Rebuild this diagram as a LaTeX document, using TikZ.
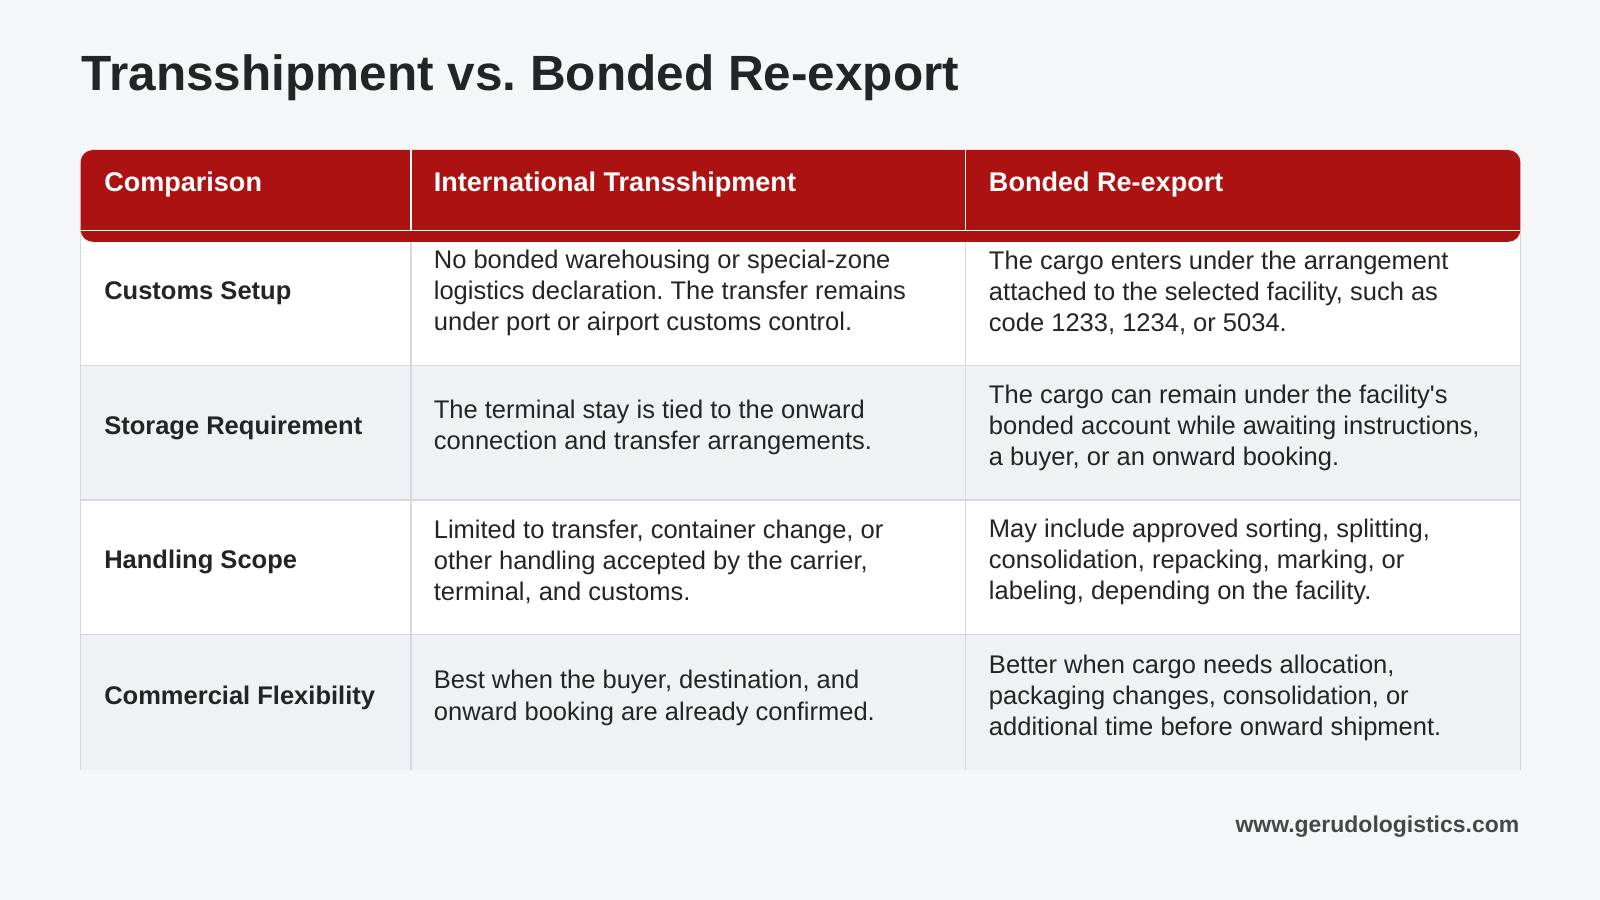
\documentclass[tikz,border=0pt]{standalone}
\usepackage{fontspec}
\setmainfont{Liberation Sans}
\frenchspacing
\definecolor{pagebg}{HTML}{F5F6F8}
\definecolor{hdrred}{HTML}{AD1212}
\definecolor{rowgray}{HTML}{F0F1F4}
\definecolor{gridline}{HTML}{D6D8DD}
\definecolor{inkdark}{HTML}{222428}
\definecolor{inkgray}{HTML}{45474C}
\tikzset{
  hdr/.style={anchor=west,inner sep=0pt,text=white,font=\fontsize{26.5}{30}\selectfont\bfseries},
  lbl/.style={anchor=west,inner sep=0pt,text=inkdark,font=\fontsize{25}{30}\selectfont\bfseries},
  body/.style={anchor=west,inner sep=0pt,align=left,text=inkdark,font=\fontsize{25}{30.5}\selectfont},
}
\begin{document}
\begin{tikzpicture}[x=1pt,y=-1pt]
	\useasboundingbox[fill=pagebg] (0,0) rectangle (1568,882);

	\node[anchor=west,inner sep=0pt,text=inkdark,font=\fontsize{48.5}{58}\selectfont\bfseries] (title) at (80,76) {Transshipment vs. Bonded Re-export};

	% rows
	\fill[white] (79,226) rectangle (1490,358);
	\fill[rowgray] (79,358) rectangle (1490,490);
	\fill[white] (79,490) rectangle (1490,622);
	\fill[rowgray] (79,622) rectangle (1490,755);
	\draw[gridline,line width=1.5pt] (79,226) -- (79,755) (403,226) -- (403,755) (946,226) -- (946,755) (1490,226) -- (1490,755)
	(79,358) -- (1490,358) (79,490) -- (1490,490) (79,622) -- (1490,622);

	% header
	\fill[hdrred,rounded corners=12pt] (79,147) rectangle (1490,237);
	\draw[white,line width=1.5pt] (403,147) -- (403,226) (946,147) -- (946,226) (79,226) -- (1490,226);

	\node[hdr] (h1) at (102,181) {Comparison};
	\node[hdr] (h2) at (425,181) {International Transshipment};
	\node[hdr] (h3) at (969,181) {Bonded Re-export};

	\node[lbl] (l1) at (102,287) {Customs Setup};
	\node[body] (a1) at (425,287) {No bonded warehousing or special-zone\\logistics declaration. The transfer remains\\under port or airport customs control.};
	\node[body] (b1) at (969,287) {The cargo enters under the arrangement\\attached to the selected facility, such as\\code 1233, 1234, or 5034.};

	\node[lbl] (l2) at (102,419) {Storage Requirement};
	\node[body] (a2) at (425,419) {The terminal stay is tied to the onward\\connection and transfer arrangements.};
	\node[body] (b2) at (969,419) {The cargo can remain under the facility\textquotesingle s\\bonded account while awaiting instructions,\\a buyer, or an onward booking.};

	\node[lbl] (l3) at (102,551) {Handling Scope};
	\node[body] (a3) at (425,551) {Limited to transfer, container change, or\\other handling accepted by the carrier,\\terminal, and customs.};
	\node[body] (b3) at (969,551) {May include approved sorting, splitting,\\consolidation, repacking, marking, or\\labeling, depending on the facility.};

	\node[lbl] (l4) at (102,684) {Commercial Flexibility};
	\node[body] (a4) at (425,684) {Best when the buyer, destination, and\\onward booking are already confirmed.};
	\node[body] (b4) at (969,684) {Better when cargo needs allocation,\\packaging changes, consolidation, or\\additional time before onward shipment.};

	\node[anchor=east,inner sep=0pt,text=inkgray,font=\fontsize{22.5}{26}\selectfont\bfseries] (site) at (1489,810) {www.gerudologistics.com};
\end{tikzpicture}
\end{document}
